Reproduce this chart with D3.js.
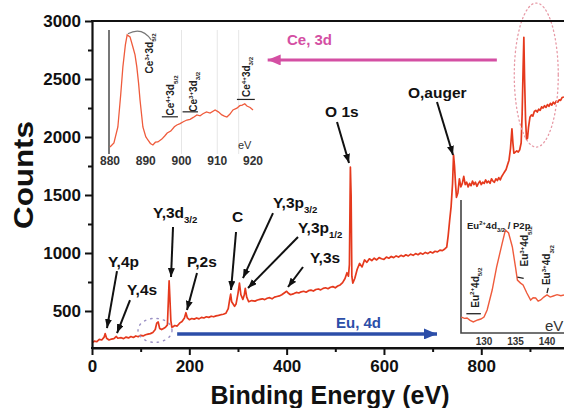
<!DOCTYPE html>
<html><head><meta charset="utf-8">
<script src="https://cdn.jsdelivr.net/npm/d3@7"></script>
<style>
html,body{margin:0;padding:0;background:#fff;}
svg{display:block;font-family:"Liberation Sans",Arial,Helvetica,sans-serif;}
</style></head><body>
<svg id="chart" width="564" height="408"></svg>
<script>
// XPS survey spectrum: binding energy (eV) and counts
const energy = [0,5,10,15,20,25,27,30,35,40,45,50,53,60,65,70,75,80,85,90,95,100,105,110,115,120,125,130,133,136,139,143,147,151,155,157,158.5,160,162,164,167,170,175,180,185,190,193,196,200,205,210,215,220,225,230,235,240,245,250,255,260,265,270,275,280,283,285,287,290,293,296,300,303,306,310,313,315,318,322,328,335,340,345,350,355,360,365,370,375,380,385,390,395,400,403,408,415,420,425,430,435,440,445,450,455,460,465,470,475,480,485,490,495,500,505,510,515,520,524,527,529,531,532.5,534,536,540,545,550,555,560,565,570,575,580,585,590,595,600,605,610,615,620,625,630,635,640,645,650,655,660,665,670,675,680,685,690,695,700,705,710,715,720,725,729,732,735,738,741,743,745,747,749,752,755,758,761,764,767,770,773,776,779,782,785,788,791,794,797,800,803,806,809,812,815,818,821,824,827,830,833,836,839,842,845,848,851,854,857,860,863,865,867,870,873,876,879,882,884,886,887.5,889,891,893,895,897,900,903,906,909,912,915,918,921,924,927,930,933,936,939,942,945,948,951,954,957,960,963,966,970];
const counts = [225,240,235,255,250,275,305,265,250,258,262,280,265,270,262,275,268,280,272,285,278,290,285,295,300,305,315,340,395,405,350,340,350,360,380,600,760,620,420,360,365,375,370,395,410,440,485,440,425,435,430,440,432,445,440,450,445,455,450,458,462,468,472,480,520,600,645,580,560,540,560,650,740,640,600,640,695,620,580,590,585,595,600,605,598,610,615,605,620,625,630,640,655,670,655,640,650,660,655,665,670,662,675,680,672,685,690,682,695,700,692,705,710,700,715,725,745,780,830,800,900,1740,1500,800,740,780,860,910,880,940,920,950,935,955,940,960,950,945,965,955,970,960,975,965,980,970,985,975,990,980,995,985,1000,990,1005,995,1010,1000,1015,1010,1025,1020,1035,1050,1150,1280,1400,1600,1845,1750,1600,1480,1520,1640,1570,1600,1660,1590,1610,1570,1600,1580,1620,1590,1610,1575,1600,1620,1590,1610,1600,1630,1605,1620,1600,1640,1620,1610,1640,1625,1650,1630,1660,1680,1700,1720,1760,1800,1900,2070,1950,1860,1870,1880,1870,1890,1950,2200,2600,2860,2500,2150,1980,1990,2080,2170,2190,2180,2220,2230,2215,2240,2230,2260,2250,2270,2255,2280,2265,2290,2275,2300,2285,2310,2300,2320,2315,2340,2345];
const xTicks = [0,200,400,600,800];
const xMinor = [100,300,500,700,900];
const yTicks = [500,1000,1500,2000,2500,3000];
const yMinor = [750,1250,1750,2250,2750];

// Ce 3d high-resolution window (relative intensity)
const ceEnergy = [880,881.1,882.2,883,883.6,884.3,884.8,885.6,886.4,887,887.5,888,888.4,889.2,890,890.6,891.3,892,892.7,893.4,894.5,895.3,896,897,898,898.7,899.6,900.5,901.5,902.4,903.3,904.3,905.2,906,907,908,909.4,910.3,911.3,912,912.7,913.5,914.4,915.5,916.3,917,917.7,918.3,919.2,920];
const ceIntensity = [5.6,8.9,21.8,48,70.2,88,96,94.4,86.3,80,70.2,57,43.5,21.8,14,11.3,8.5,7.3,9.5,9.7,12,14.5,16.9,18.5,22,23.4,24.5,26,27.4,28,29.5,31.5,30.8,32.5,33.9,33,35.5,34,31.5,30.5,29.8,32,35.5,37,39,39.5,40.5,38.7,37.5,35.5];
const ceTicks = [880,890,900,910,920];

// Eu 4d / P 2p window (relative intensity)
const euEnergy = [126.4,126.9,127.3,127.8,128.3,129,129.5,130,130.5,131.3,132,132.9,133.4,133.9,134.5,135,135.3,135.8,136.2,136.8,137.4,137.8,138.2,138.6,139,139.5,140,140.5,141,141.6,142.2,142.7];
const euIntensity = [12,11,11.3,9.5,8.3,9.8,10.5,12,17.3,32.3,49.6,67.7,77.4,75.2,64.7,49.6,39.8,37.5,36.1,30.1,24.8,26.5,26.3,24,24.8,27,28.6,27,27.8,28.8,28,28.6];
const euTicks = [130,135,140];

const svg = d3.select("#chart");
const plotL = 92, plotR = 564, plotT = 21, plotB = 348;

const x = d3.scaleLinear().domain([0, 970]).range([plotL, plotR]);
const y = d3.scaleLinear().domain([181, 3000]).range([plotB, plotT]);

const RED = "#e5391d";
const INSET_RED = "#ef5b3c";

// arrowhead markers
const defs = svg.append("defs");
function marker(id, color, w, h) {
  defs.append("marker").attr("id", id)
    .attr("viewBox", `0 0 ${w} ${h}`).attr("refX", w).attr("refY", h / 2)
    .attr("markerWidth", w).attr("markerHeight", h)
    .attr("markerUnits", "userSpaceOnUse").attr("orient", "auto")
    .append("path").attr("d", `M0,0L${w},${h/2}L0,${h}Z`).attr("fill", color);
}
marker("arrBlack", "#111", 9, 7);
marker("arrBlue", "#2c4ea8", 13, 11);
marker("arrPink", "#d44fa3", 13, 11);

defs.append("clipPath").attr("id", "plotClip").append("rect")
  .attr("x", plotL).attr("y", plotT).attr("width", plotR - plotL).attr("height", plotB - plotT);

// text with sub/superscripts
function rich(sel, parts, fs) {
  let shift = 0;
  parts.forEach(p => {
    const target = p.sub ? fs * 0.32 : p.sup ? -fs * 0.42 : 0;
    sel.append("tspan")
      .attr("dy", target - shift)
      .attr("font-size", (p.sub || p.sup) ? fs * 0.62 : fs)
      .text(p.t);
    shift = target;
  });
  return sel;
}
// vertical (bottom-to-top) label anchored at its lower end
function vlabel(parent, px, py, parts, fs) {
  const g = parent.append("g").attr("transform", `translate(${px},${py}) rotate(-90)`);
  return rich(g.append("text").attr("x", 0).attr("y", 0)
    .attr("font-weight", "bold").attr("fill", "#222"), parts, fs);
}

// ---- main spectrum ----
const pts = energy.map((e, i) => [e, counts[i]]);
svg.append("path").datum(pts)
  .attr("clip-path", "url(#plotClip)")
  .attr("fill", "none").attr("stroke", RED).attr("stroke-width", 1.7)
  .attr("stroke-linejoin", "round")
  .attr("d", d3.line().x(d => x(d[0])).y(d => y(d[1])));

// dotted outline around the Ce 3d region
svg.append("ellipse")
  .attr("cx", x(913)).attr("cy", y(2534)).attr("rx", 22).attr("ry", 72)
  .attr("fill", "none").attr("stroke", "#e79aa6").attr("stroke-width", 1.3)
  .attr("stroke-dasharray", "1.3,3").attr("stroke-linecap", "round");

// dotted outline around the Eu 4d / P 2p region
svg.append("ellipse")
  .attr("cx", x(129.5)).attr("cy", y(333)).attr("rx", 17).attr("ry", 12)
  .attr("fill", "none").attr("stroke", "#9a90c4").attr("stroke-width", 1.4)
  .attr("stroke-dasharray", "1.4,5").attr("stroke-linecap", "round");

// ---- axes ----
const font = "'Liberation Sans',Arial,sans-serif";
const gx = svg.append("g").attr("transform", `translate(0,${plotB})`)
  .call(d3.axisBottom(x).tickValues(xTicks).tickFormat(d3.format("d"))
    .tickSize(7).tickSizeOuter(0).tickPadding(5));
gx.append("g").call(d3.axisBottom(x).tickValues(xMinor).tickSize(4).tickFormat(""))
  .select(".domain").remove();
const gy = svg.append("g").attr("transform", `translate(${plotL},0)`)
  .call(d3.axisLeft(y).tickValues(yTicks).tickFormat(d3.format("d"))
    .tickSize(7).tickSizeOuter(0).tickPadding(4));
gy.append("g").call(d3.axisLeft(y).tickValues(yMinor).tickSize(4).tickFormat(""))
  .select(".domain").remove();
[gx, gy].forEach(g => {
  g.selectAll(".domain").attr("stroke", "#111").attr("stroke-width", 2.2);
  g.selectAll(".tick line").attr("stroke", "#111").attr("stroke-width", 2);
  g.selectAll(".tick text").attr("fill", "#111").attr("font-size", 17)
    .attr("font-weight", "bold").attr("font-family", font);
});
// x baseline and frame top
svg.append("line").attr("x1", plotL - 1).attr("x2", plotR).attr("y1", plotB).attr("y2", plotB)
  .attr("stroke", "#111").attr("stroke-width", 2.2);
svg.append("line").attr("x1", plotL - 1).attr("x2", plotR).attr("y1", plotT).attr("y2", plotT)
  .attr("stroke", "#111").attr("stroke-width", 2.2);

svg.append("text").attr("x", 330).attr("y", 404).attr("text-anchor", "middle")
  .attr("font-size", 25).attr("font-weight", "bold").attr("fill", "#111")
  .text("Binding Energy (eV)");
svg.append("g").attr("transform", "translate(33,175) rotate(-90)")
  .append("text").attr("text-anchor", "middle")
  .attr("font-size", 27).attr("font-weight", "bold").attr("fill", "#111")
  .attr("textLength", 108).attr("lengthAdjust", "spacingAndGlyphs")
  .text("Counts");

// ---- peak annotations ----
const peaks = [
  { e: 528.2, c: 1776, label: [{t:"O 1s"}], tx: -24, ty: -46, ax: -12, ay: -41 },
  { e: 741.9, c: 1845, label: [{t:"O,auger"}], tx: -45, ty: -57, ax: -16, ay: -53 },
  { e: 30.8, c: 353, label: [{t:"Y,4p"}], tx: 1, ty: -61, ax: 10, ay: -57 },
  { e: 51.4, c: 310, label: [{t:"Y,4s"}], tx: 10, ty: -38, ax: 13, ay: -33 },
  { e: 162.4, c: 793, label: [{t:"Y,3d"},{t:"3/2",sub:1}], tx: -18, ty: -59, ax: 2, ay: -50 },
  { e: 195.2, c: 509, label: [{t:"P,2s"}], tx: 0, ty: -43, ax: 10, ay: -37 },
  { e: 285.7, c: 681, label: [{t:"C"}], tx: 1, ty: -68, ax: 5, ay: -58 },
  { e: 310.3, c: 784, label: [{t:"Y,3p"},{t:"3/2",sub:1}], tx: 30, ty: -70, ax: 30, ay: -65 },
  { e: 320.6, c: 698, label: [{t:"Y,3p"},{t:"1/2",sub:1}], tx: 50, ty: -55, ax: 50, ay: -51 },
  { e: 402.8, c: 707, label: [{t:"Y,3s"}], tx: 22, ty: -24, ax: 15, ay: -20 }
];
peaks.forEach(p => {
  const px = x(p.e), py = y(p.c);
  svg.append("line").attr("x1", px + p.ax).attr("y1", py + p.ay).attr("x2", px).attr("y2", py)
    .attr("stroke", "#111").attr("stroke-width", 2).attr("marker-end", "url(#arrBlack)");
  rich(svg.append("text").attr("x", px + p.tx).attr("y", py + p.ty)
    .attr("font-weight", "bold").attr("fill", "#111"), p.label, 15.5);
});

// ---- range arrows ----
svg.append("line").attr("x1", x(832)).attr("x2", x(361)).attr("y1", y(2664)).attr("y2", y(2664))
  .attr("stroke", "#d44fa3").attr("stroke-width", 3.2).attr("marker-end", "url(#arrPink)");
svg.append("text").attr("x", 287).attr("y", 45).attr("font-size", 15).attr("font-weight", "bold")
  .attr("fill", "#d44fa3").text("Ce, 3d");
svg.append("line").attr("x1", x(175)).attr("x2", x(709)).attr("y1", y(302)).attr("y2", y(302))
  .attr("stroke", "#2c4ea8").attr("stroke-width", 3.4).attr("marker-end", "url(#arrBlue)");
svg.append("text").attr("x", 336).attr("y", 328).attr("font-size", 15).attr("font-weight", "bold")
  .attr("fill", "#2c4ea8").text("Eu, 4d");

// ---- Ce 3d inset ----
const xCe = d3.scaleLinear().domain([880, 920]).range([110, 253]);
const yCe = d3.scaleLinear().domain([0, 100]).range([154, 30]);
const ce = svg.append("g");
[900, 910, 916].forEach(v => ce.append("line").attr("x1", xCe(v)).attr("x2", xCe(v))
  .attr("y1", 30).attr("y2", 154).attr("stroke", "#e6e6e6").attr("stroke-width", 1));
ce.append("line").attr("x1", 109).attr("x2", 109).attr("y1", 30).attr("y2", 154)
  .attr("stroke", "#555").attr("stroke-width", 1.6);
ce.append("path").datum(ceEnergy.map((e, i) => [e, ceIntensity[i]]))
  .attr("fill", "none").attr("stroke", INSET_RED).attr("stroke-width", 1.3)
  .attr("d", d3.line().x(d => xCe(d[0])).y(d => yCe(d[1])));
ce.selectAll(".cet").data(ceTicks).join("text")
  .attr("x", d => xCe(d)).attr("y", 165).attr("text-anchor", "middle")
  .attr("font-size", 12).attr("font-weight", "bold").attr("fill", "#333").text(d => d);
ce.append("text").attr("x", 238).attr("y", 149).attr("font-size", 11).attr("fill", "#333").text("eV");
const ceLabels = [
  { e: 890.9, i: 65, parts: [{t:"Ce"},{t:"3+",sup:1},{t:"3d"},{t:"5/2",sub:1}] },
  { e: 896.9, i: 31, parts: [{t:"Ce"},{t:"4+",sup:1},{t:"3d"},{t:"5/2",sub:1}], bar: [894.5, 899, 30] },
  { e: 903.2, i: 34, parts: [{t:"Ce"},{t:"3+",sup:1},{t:"3d"},{t:"3/2",sub:1}], bar: [900.3, 904.6, 34] },
  { e: 918.1, i: 46, parts: [{t:"Ce"},{t:"4+",sup:1},{t:"3d"},{t:"3/2",sub:1}], bar: [915.5, 920.5, 44] }
];
ceLabels.forEach(l => {
  vlabel(ce, xCe(l.e) + 4, yCe(l.i), l.parts, 10);
  if (l.bar) ce.append("line").attr("x1", xCe(l.bar[0])).attr("x2", xCe(l.bar[1]))
    .attr("y1", yCe(l.bar[2])).attr("y2", yCe(l.bar[2])).attr("stroke", "#222").attr("stroke-width", 1.2);
});
ce.append("path").attr("d", `M${xCe(885)},${yCe(97)} Q${xCe(889)},${yCe(103)} ${xCe(891.5)},${yCe(92)}`)
  .attr("fill", "none").attr("stroke", "#777").attr("stroke-width", 1.2);

// ---- Eu 4d / P 2p inset ----
const xEu = d3.scaleLinear().domain([130, 140]).range([484, 547]);
const yEu = d3.scaleLinear().domain([0, 100]).range([333, 200]);
const eu = svg.append("g");
eu.append("path").attr("d", `M461,200V333H${plotR}`).attr("fill", "none")
  .attr("stroke", "#444").attr("stroke-width", 1.6);
eu.append("path").datum(euEnergy.map((e, i) => [e, euIntensity[i]]))
  .attr("fill", "none").attr("stroke", INSET_RED).attr("stroke-width", 1.4)
  .attr("d", d3.line().x(d => xEu(d[0])).y(d => yEu(d[1])));
eu.selectAll(".eut").data(euTicks).join("text")
  .attr("x", d => xEu(d)).attr("y", 345).attr("text-anchor", "middle")
  .attr("font-size", 10).attr("font-weight", "bold").attr("fill", "#333").text(d => d);
eu.append("text").attr("x", 545).attr("y", 331).attr("font-size", 15).attr("fill", "#333").text("eV");
rich(eu.append("text").attr("x", 467).attr("y", 229).attr("font-weight", "bold").attr("fill", "#222"),
  [{t:"Eu"},{t:"2+",sup:1},{t:"4d"},{t:"3/2",sub:1},{t:" / P2p"}], 9.5);
const euLabels = [
  { e: 128.5, i: 19, parts: [{t:"Eu"},{t:"2+",sup:1},{t:"4d"},{t:"5/2",sub:1}], bar: [[127.2, 14.5], [129.5, 14.5]] },
  { e: 136.4, i: 50, parts: [{t:"Eu"},{t:"3+",sup:1},{t:"4d"},{t:"5/2",sub:1}], bar: [[135.3, 42], [136.3, 41]] },
  { e: 139.9, i: 36, parts: [{t:"Eu"},{t:"3+",sup:1},{t:"4d"},{t:"3/2",sub:1}], bar: [[140, 30], [140.2, 34]] }
];
euLabels.forEach(l => {
  vlabel(eu, xEu(l.e) + 4, yEu(l.i), l.parts, 10);
  eu.append("line").attr("x1", xEu(l.bar[0][0])).attr("y1", yEu(l.bar[0][1]))
    .attr("x2", xEu(l.bar[1][0])).attr("y2", yEu(l.bar[1][1]))
    .attr("stroke", "#222").attr("stroke-width", 1.3);
});
</script>
</body></html>
